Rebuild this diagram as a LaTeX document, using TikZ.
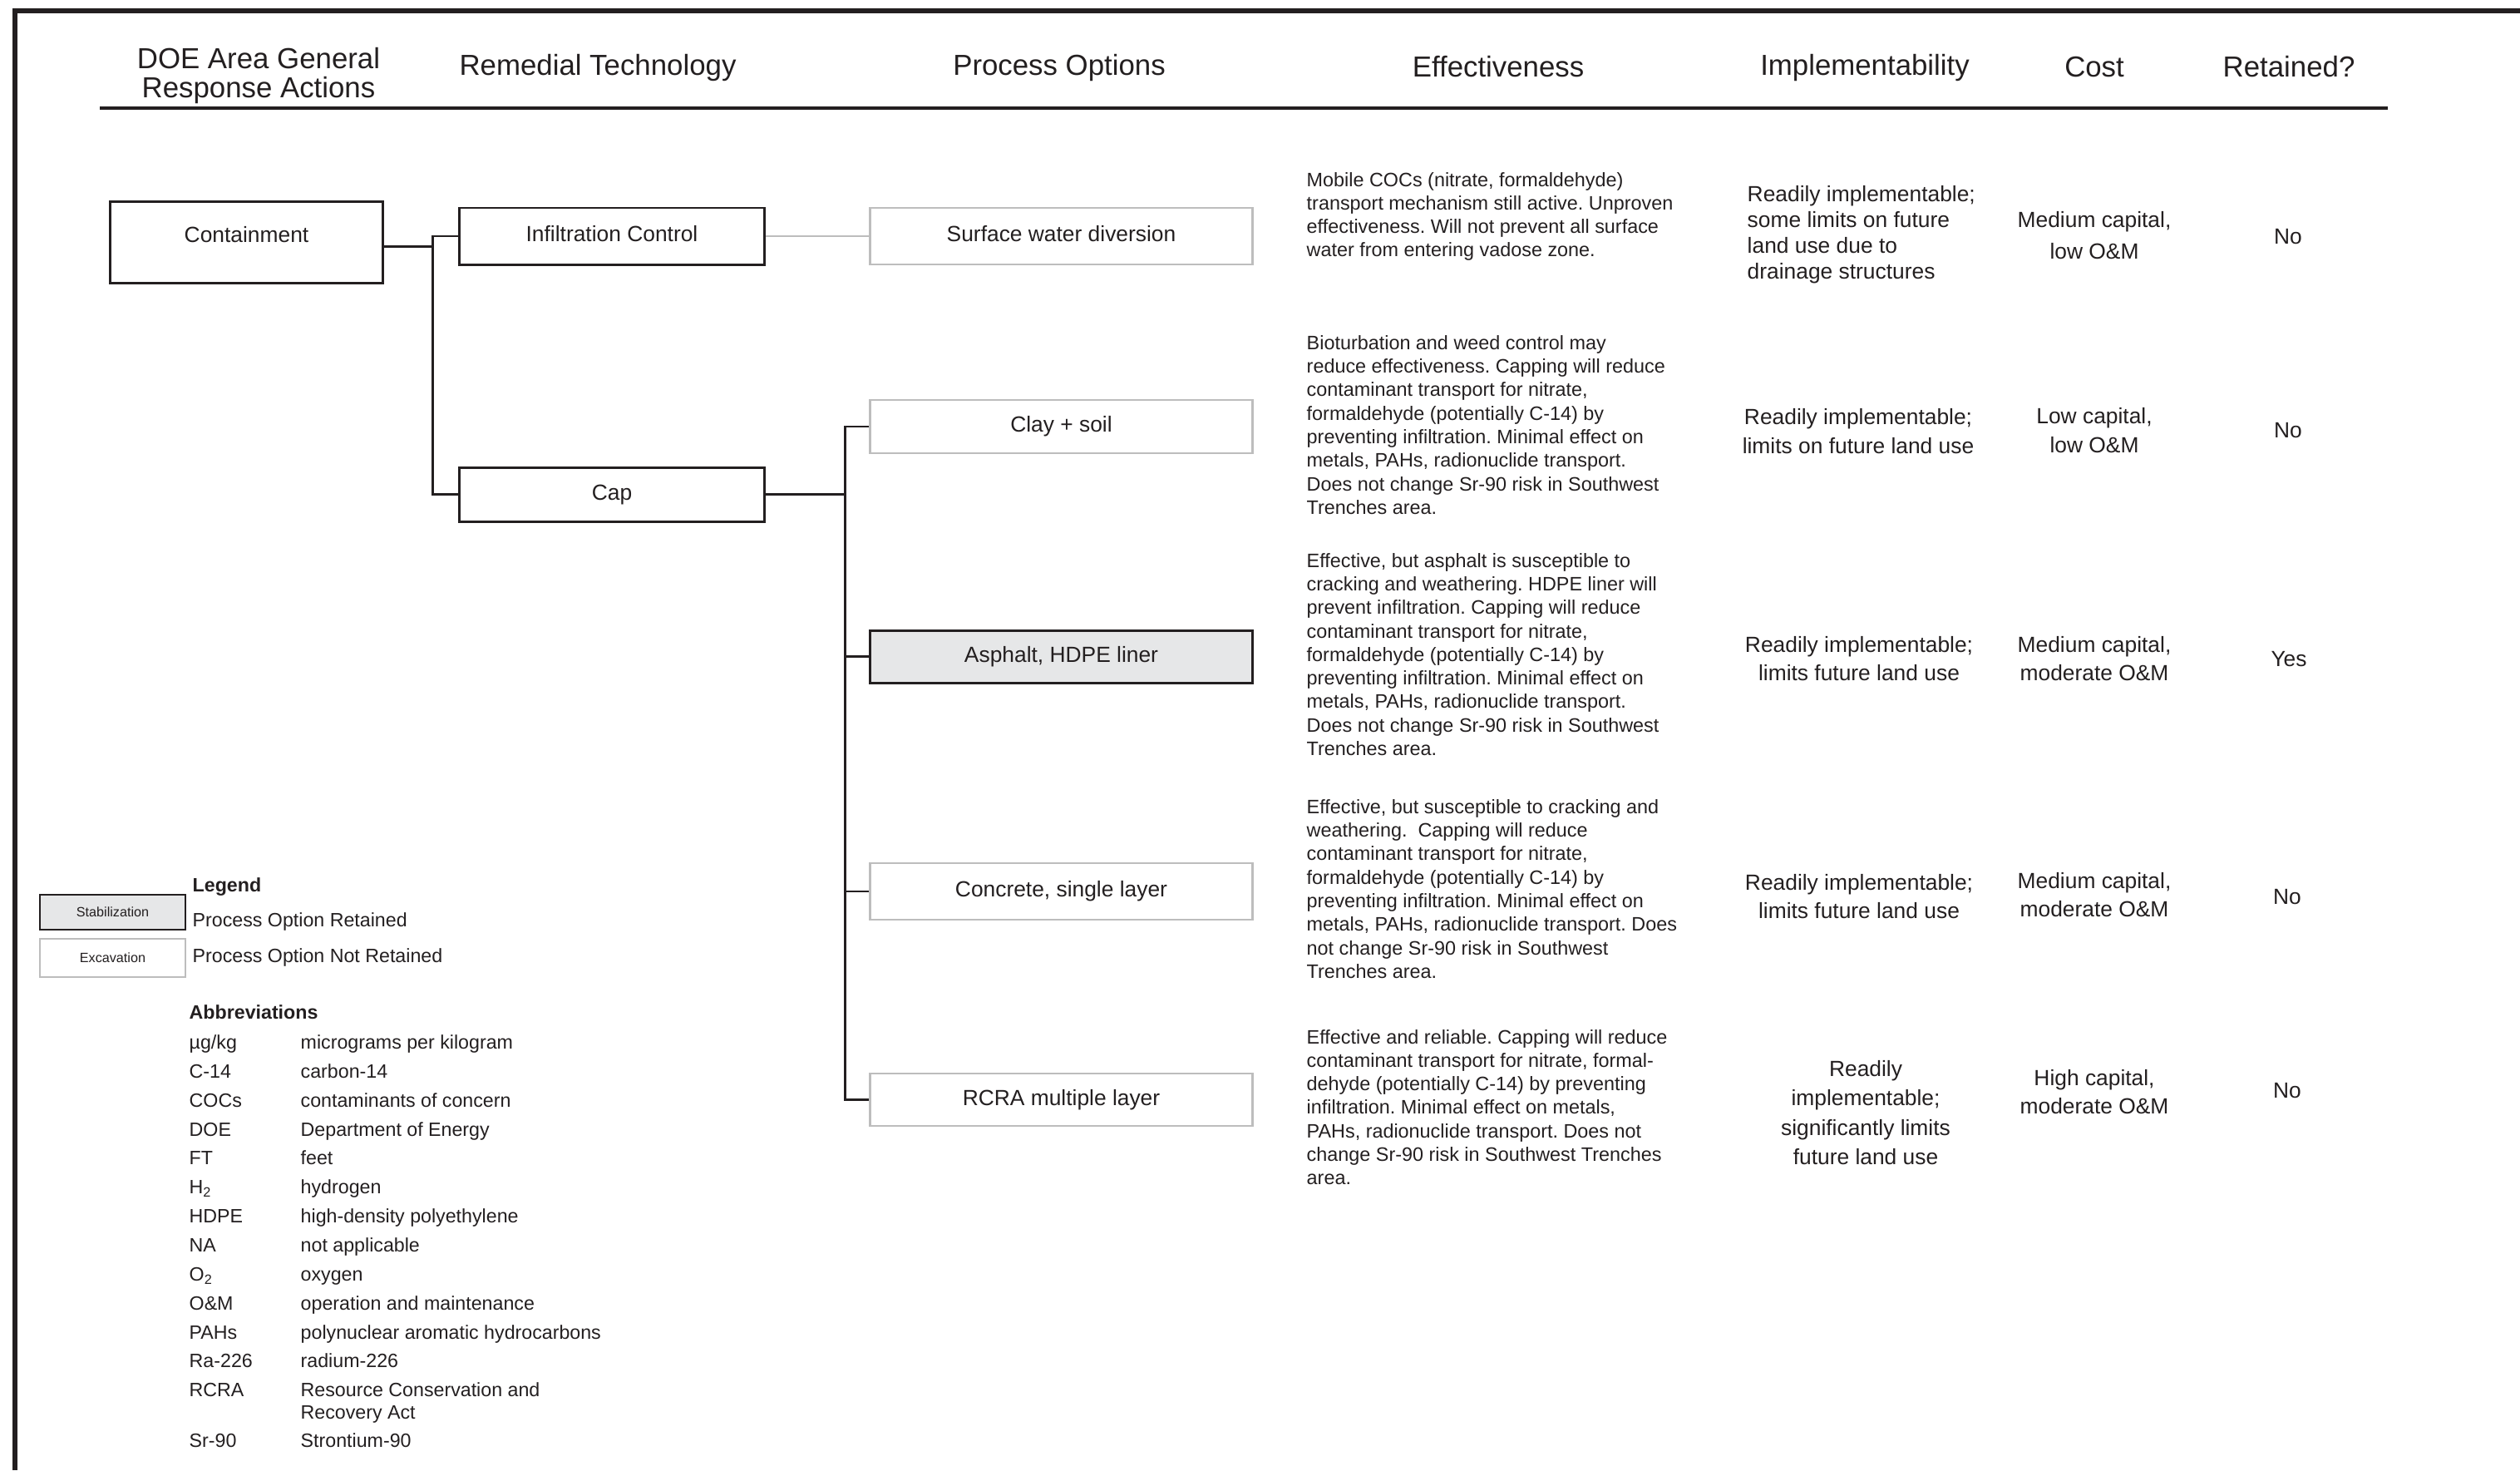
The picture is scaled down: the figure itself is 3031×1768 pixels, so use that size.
\documentclass[tikz,border=0pt]{standalone}
\usepackage{fontspec}
\setmainfont{Liberation Sans}
\definecolor{ink}{HTML}{231F20}
\definecolor{keepfill}{HTML}{E6E7E8}
\definecolor{dropline}{HTML}{BDBDBD}
\begin{document}
\frenchspacing
\begin{tikzpicture}[x=0.01cm, y=-0.01cm,
  every node/.style={text=ink, inner sep=0pt},
  hdr/.style={align=center, font=\fontsize{9.9}{10}\selectfont},
  boxfont/.style={font=\fontsize{7.5}{9}\selectfont, text height=5.4pt, text depth=1.6pt},
  techbox/.style={draw=ink, line width=0.85pt, minimum width=3.66cm, boxfont},
  keptbox/.style={draw=ink, fill=keepfill, line width=0.85pt, minimum width=4.59cm, boxfont},
  dropbox/.style={draw=dropline, fill=white, line width=0.8pt, minimum width=4.59cm, boxfont},
  link/.style={draw=ink, line width=0.7pt},
  droplink/.style={draw=dropline, line width=0.6pt},
  efftext/.style={anchor=west, align=left, font=\fontsize{6.65}{8.04}\selectfont},
  cell/.style={align=center, font=\fontsize{7.5}{9.7}\selectfont},
  legtext/.style={anchor=west, font=\fontsize{6.6}{7.7}\selectfont, text height=4.75pt, text depth=1.4pt},
  legbold/.style={anchor=west, font=\fontsize{6.6}{7.7}\selectfont\bfseries, text height=4.75pt, text depth=1.4pt},
  tinybox/.style={minimum width=1.75cm, line width=0.7pt, font=\fontsize{4.6}{5}\selectfont}
]
\useasboundingbox (0,0) rectangle (3031,1768);

% page frame and header rule
\draw[ink, line width=1.55pt] (18,1768) -- (18,13) -- (3031,13);
\draw[ink, line width=0.9pt] (120,130) -- (2872,130);

% column headings
\node[hdr] (hGRA)  at (311,91)  {DOE Area General\\Response Actions};
\node[hdr] (hRT)   at (719,81)  {Remedial Technology};
\node[hdr] (hPO)   at (1274,81) {Process Options};
\node[hdr] (hEff)  at (1802,80) {Effectiveness};
\node[hdr] (hImp)  at (2243,81) {Implementability};
\node[hdr] (hCost) at (2519,80) {Cost};
\node[hdr] (hRet)  at (2753,80) {Retained?};

% general response action
\node[draw=ink, line width=0.85pt, minimum width=3.27cm, minimum height=0.97cm] (cont) at (296.5,291.5) {};
\node[font=\fontsize{7.5}{9}\selectfont] (contlbl) at (296.5,282) {Containment};

% remedial technologies
\node[techbox, minimum height=0.68cm] (infil) at (736,284)   {Infiltration Control};
\node[techbox, minimum height=0.65cm] (cap)   at (736,594.5) {Cap};

% process options
\node[dropbox, minimum height=0.68cm] (surf) at (1276.5,284)    {Surface water diversion};
\node[dropbox, minimum height=0.64cm] (clay) at (1276.5,513)    {Clay + soil};
\node[keptbox, minimum height=0.63cm] (asph) at (1276.5,789.5)  {Asphalt, HDPE liner};
\node[dropbox, minimum height=0.68cm] (conc) at (1276.5,1072)   {Concrete, single layer};
\node[dropbox, minimum height=0.63cm] (rcra) at (1276.5,1322.5) {RCRA multiple layer};

% tree connectors
\draw[link] ([yshift=-0.05cm]cont.east) -- ++(59,0) coordinate (forkA);
\draw[link] (infil.west) -| (forkA) |- (cap.west);
\draw[droplink] (infil.east) -- (surf.west);
\draw[link] (cap.east) -- ++(96,0) coordinate (forkB);
\draw[link] (clay.west) -| (forkB) |- (rcra.west);
\draw[link] (forkB) |- (asph.west);
\draw[link] (forkB) |- (conc.west);

% effectiveness
\node[efftext] (eff1) at (1571,260.5) {Mobile COCs (nitrate, formaldehyde)\\transport mechanism still active. Unproven\\effectiveness. Will not prevent all surface\\water from entering vadose zone.};
\node[efftext] (eff2) at (1571,511) {Bioturbation and weed control may\\reduce effectiveness. Capping will reduce\\contaminant transport for nitrate,\\formaldehyde (potentially C-14) by\\preventing infiltration. Minimal effect on\\metals, PAHs, radionuclide transport.\\Does not change Sr-90 risk in Southwest\\Trenches area.};
\node[efftext] (eff3) at (1571,787) {Effective, but asphalt is susceptible to\\cracking and weathering. HDPE liner will\\prevent infiltration. Capping will reduce\\contaminant transport for nitrate,\\formaldehyde (potentially C-14) by\\preventing infiltration. Minimal effect on\\metals, PAHs, radionuclide transport.\\Does not change Sr-90 risk in Southwest\\Trenches area.};
\node[efftext] (eff4) at (1571,1069) {Effective, but susceptible to cracking and\\weathering.\ \ Capping will reduce\\contaminant transport for nitrate,\\formaldehyde (potentially C-14) by\\preventing infiltration. Minimal effect on\\metals, PAHs, radionuclide transport. Does\\not change Sr-90 risk in Southwest\\Trenches area.};
\node[efftext] (eff5) at (1571,1331.5) {Effective and reliable. Capping will reduce\\contaminant transport for nitrate, formal-\\dehyde (potentially C-14) by preventing\\infiltration. Minimal effect on metals,\\PAHs, radionuclide transport. Does not\\change Sr-90 risk in Southwest Trenches\\area.};

% implementability
\node[cell, anchor=west, align=left, font=\fontsize{7.5}{8.8}\selectfont] (imp1) at (2101,282) {Readily implementable;\\some limits on future\\land use due to\\drainage structures};
\node[cell] (imp2) at (2235,518.5) {Readily implementable;\\limits on future land use};
\node[cell] (imp3) at (2236,792) {Readily implementable;\\limits future land use};
\node[cell] (imp4) at (2236,1078) {Readily implementable;\\limits future land use};
\node[cell, font=\fontsize{7.5}{10.1}\selectfont] (imp5) at (2244,1338) {Readily\\implementable;\\significantly limits\\future land use};

% cost
\node[cell, font=\fontsize{7.5}{10.8}\selectfont] (cost1) at (2519,283) {Medium capital,\\low O\&M};
\node[cell] (cost2) at (2519,517.5) {Low capital,\\low O\&M};
\node[cell] (cost3) at (2519,792) {Medium capital,\\moderate O\&M};
\node[cell] (cost4) at (2519,1076) {Medium capital,\\moderate O\&M};
\node[cell] (cost5) at (2519,1313) {High capital,\\moderate O\&M};

% retained?
\node[cell] (ret1) at (2752,285)  {No};
\node[cell] (ret2) at (2752,518)  {No};
\node[cell] (ret3) at (2753,793)  {Yes};
\node[cell] (ret4) at (2751,1079) {No};
\node[cell] (ret5) at (2751,1312) {No};

% legend
\node[legbold] (legtitle) at (231,1067) {Legend};
\node[tinybox, draw=ink, fill=keepfill, minimum height=0.42cm] (legkept) at (135.5,1097) {Stabilization};
\node[tinybox, draw=dropline, line width=0.8pt, minimum height=0.46cm] (legdrop) at (135.5,1152) {Excavation};
\node[legtext] (legkepttxt) at (231,1109) {Process Option Retained};
\node[legtext] (legdroptxt) at (231,1152) {Process Option Not Retained};

% abbreviations
\node[legbold] (abtitle) at (227,1220) {Abbreviations};
\node[legtext] (ab1)  at (227,1256) {µg/kg};     \node[legtext] (df1)  at (361,1256) {micrograms per kilogram};
\node[legtext] (ab2)  at (227,1291) {C-14};      \node[legtext] (df2)  at (361,1291) {carbon-14};
\node[legtext] (ab3)  at (227,1326) {COCs};      \node[legtext] (df3)  at (361,1326) {contaminants of concern};
\node[legtext] (ab4)  at (227,1361) {DOE};       \node[legtext] (df4)  at (361,1361) {Department of Energy};
\node[legtext] (ab5)  at (227,1395) {FT};        \node[legtext] (df5)  at (361,1395) {feet};
\node[legtext] (ab6)  at (227,1430) {H\textsubscript{2}}; \node[legtext] (df6) at (361,1430) {hydrogen};
\node[legtext] (ab7)  at (227,1465) {HDPE};      \node[legtext] (df7)  at (361,1465) {high-density polyethylene};
\node[legtext] (ab8)  at (227,1500) {NA};        \node[legtext] (df8)  at (361,1500) {not applicable};
\node[legtext] (ab9)  at (227,1535) {O\textsubscript{2}}; \node[legtext] (df9) at (361,1535) {oxygen};
\node[legtext] (ab10) at (227,1570) {O\&M};      \node[legtext] (df10) at (361,1570) {operation and maintenance};
\node[legtext] (ab11) at (227,1605) {PAHs};      \node[legtext] (df11) at (361,1605) {polynuclear aromatic hydrocarbons};
\node[legtext] (ab12) at (227,1639) {Ra-226};    \node[legtext] (df12) at (361,1639) {radium-226};
\node[legtext] (ab13) at (227,1674) {RCRA};
\node[anchor=west, align=left, font=\fontsize{6.6}{7.7}\selectfont] (df13) at (361,1687) {Resource Conservation and\\Recovery Act};
\node[legtext] (ab14) at (227,1735) {Sr-90};     \node[legtext] (df14) at (361,1735) {Strontium-90};
\end{tikzpicture}
\end{document}
